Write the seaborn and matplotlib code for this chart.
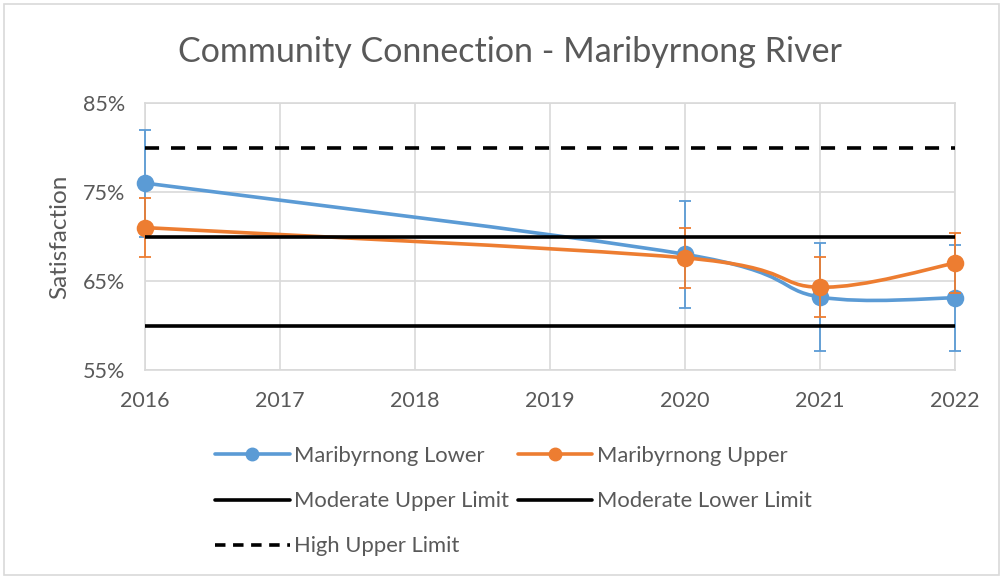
import matplotlib
matplotlib.use("Agg")
import matplotlib.pyplot as plt
import seaborn as sns
import pandas as pd
import numpy as np
from matplotlib.path import Path
from matplotlib.patches import PathPatch, Rectangle
from matplotlib.lines import Line2D

# ---- data ----
years = [2016, 2020, 2021, 2022]
lower_vals = [76.0, 68.0, 63.2, 63.1]
lower_err = [6.0, 6.0, 6.1, 6.0]
upper_vals = [71.0, 67.6, 64.3, 67.0]
upper_err = [3.35, 3.35, 3.4, 3.4]
limit_years = [2016, 2022]
moderate_upper = [70, 70]
moderate_lower = [60, 60]
high_upper = [80, 80]
x_ticks = [2016, 2017, 2018, 2019, 2020, 2021, 2022]
y_ticks = [55, 65, 75, 85]

title = "Community Connection - Maribyrnong River"
ylabel = "Satisfaction"

BLUE = "#5B9BD5"
ORANGE = "#ED7D31"
GRAY_TXT = "#595959"
GRID = "#D9D9D9"

sns.set_theme(style="white")
plt.rcParams["font.family"] = ["Lato", "DejaVu Sans"]

fig = plt.figure(figsize=(10.03, 5.78), dpi=100)
ax = fig.add_axes([145 / 1003, 1 - 370 / 578, (955 - 145) / 1003, (370 - 103) / 578])


def smooth_path(xs, ys):
    """Excel-like smoothed line: cubic Bezier through the points."""
    pts = np.column_stack([xs, ys]).astype(float)
    n = len(pts)
    verts = [pts[0]]
    codes = [Path.MOVETO]
    for i in range(n - 1):
        p0 = pts[i - 1] if i > 0 else pts[i]
        p1 = pts[i]
        p2 = pts[i + 1]
        p3 = pts[i + 2] if i + 2 < n else pts[i + 1]
        c1 = p1 + (p2 - p0) / 6.0
        c2 = p2 - (p3 - p1) / 6.0
        verts += [c1, c2, p2]
        codes += [Path.CURVE4] * 3
    return Path(verts, codes)


series = [
    ("Maribyrnong Lower", lower_vals, lower_err, BLUE, 3),
    ("Maribyrnong Upper", upper_vals, upper_err, ORANGE, 4),
]
for name, vals, err, col, z in series:
    eb = ax.errorbar(years, vals, yerr=err, fmt="none", ecolor=col, elinewidth=1.3,
                     capsize=4.5, capthick=1.3, zorder=z)
    for art in eb.lines[1] + eb.lines[2]:
        art.set_clip_on(False)
    ax.add_patch(PathPatch(smooth_path(years, vals), facecolor="none", edgecolor=col,
                           lw=2.6, capstyle="round", zorder=z + 0.1, clip_on=False))
    df = pd.DataFrame({"year": years, "val": vals})
    sns.scatterplot(data=df, x="year", y="val", ax=ax, color=col, s=160,
                    edgecolor=col, linewidth=0, zorder=z + 0.2, legend=False,
                    clip_on=False)

DASH = (0, (3.9, 3.3))
lim_df = pd.DataFrame({"year": limit_years * 3,
                       "val": moderate_upper + moderate_lower + high_upper,
                       "grp": ["mu"] * 2 + ["ml"] * 2 + ["hu"] * 2})
for g, ls in [("mu", "-"), ("ml", "-"), ("hu", DASH)]:
    sub = lim_df[lim_df.grp == g]
    sns.lineplot(data=sub, x="year", y="val", ax=ax, color="black", lw=2.6,
                 linestyle=ls, zorder=6, legend=False)

ax.set_xlim(2016, 2022)
ax.set_ylim(55, 85)
ax.set_xticks(x_ticks)
ax.set_yticks(y_ticks)
ax.set_yticklabels([f"{v}%" for v in y_ticks])
ax.set_xlabel("")
ax.set_ylabel("")
ax.grid(True, color=GRID, lw=1.2, zorder=0)
ax.set_axisbelow(True)
for s in ax.spines.values():
    s.set_color(GRID)
    s.set_linewidth(1.2)
ax.tick_params(axis="both", length=0, labelsize=15.5, colors=GRAY_TXT)
ax.tick_params(axis="x", pad=15)
ax.tick_params(axis="y", pad=14)

fig.text(0.508, 0.91, title, ha="center", va="center", fontsize=24.5, color=GRAY_TXT)
fig.text(0.060, 0.59, ylabel, ha="center", va="center", rotation=90,
         fontsize=17.5, color=GRAY_TXT)

h_lower = Line2D([], [], color=BLUE, lw=2.6, marker="o", markersize=9)
h_upper = Line2D([], [], color=ORANGE, lw=2.6, marker="o", markersize=9)
h_mu = Line2D([], [], color="black", lw=2.6)
h_ml = Line2D([], [], color="black", lw=2.6)
h_hu = Line2D([], [], color="black", lw=2.6, linestyle=(0, (2.9, 2.1)))
handles = [h_lower, h_mu, h_hu, h_upper, h_ml]
labels = ["Maribyrnong Lower", "Moderate Upper Limit", "High Upper Limit",
          "Maribyrnong Upper", "Moderate Lower Limit"]
leg = fig.legend(handles, labels, ncol=2, loc="upper left",
                 bbox_to_anchor=(215 / 1003, 1 - 446 / 578), frameon=False,
                 fontsize=15.8, handlelength=3.4, handletextpad=0.2,
                 columnspacing=0.4, labelspacing=1.15, borderpad=0, borderaxespad=0)
for t in leg.get_texts():
    t.set_color(GRAY_TXT)

fig.patches.append(Rectangle((4 / 1003, 3 / 578), 995 / 1003, 571 / 578,
                             transform=fig.transFigure, fill=False,
                             edgecolor=GRID, lw=1.2))

fig.savefig("out.png", dpi=100)
